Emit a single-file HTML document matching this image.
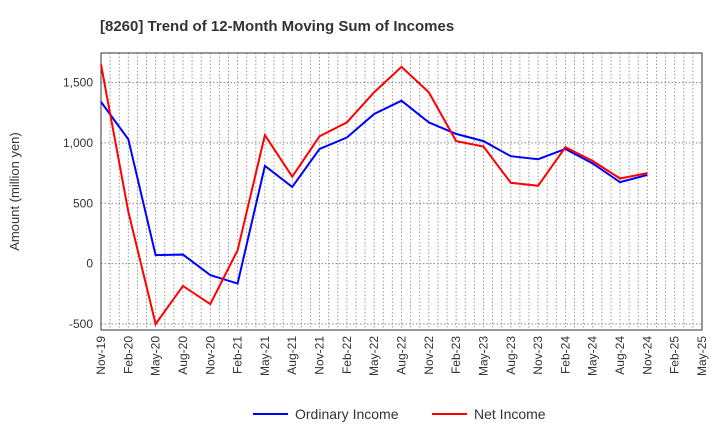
<!DOCTYPE html>
<html><head><meta charset="utf-8"><style>
body{margin:0;background:#fff;font-family:"Liberation Sans",sans-serif}
</style></head><body>
<svg id="c" width="720" height="440" xmlns="http://www.w3.org/2000/svg"></svg>
<script>
const categories=["Nov-19","Feb-20","May-20","Aug-20","Nov-20","Feb-21","May-21","Aug-21","Nov-21","Feb-22","May-22","Aug-22","Nov-22","Feb-23","May-23","Aug-23","Nov-23","Feb-24","May-24","Aug-24","Nov-24","Feb-25","May-25"];
const ordinaryIncome=[1340,1030,70,75,-95,-165,810,635,950,1045,1240,1350,1170,1075,1015,890,865,950,830,675,735];
const netIncome=[1650,430,-500,-185,-335,110,1065,720,1055,1170,1420,1630,1420,1015,970,670,645,965,850,705,750];
const yTicks=[-500,0,500,1000,1500];
const yTickLabels=["-500","0","500","1,000","1,500"];
const NS="http://www.w3.org/2000/svg";
const svg=document.getElementById('c');
const L=101,R=702,T=53,B=330,yMin=-550,yMax=1745;
const x=i=>L+(R-L)*i/(categories.length-1);
const y=v=>B-(v-yMin)/(yMax-yMin)*(B-T);
function mk(t,a){const e=document.createElementNS(NS,t);for(const k in a)e.setAttribute(k,a[k]);svg.appendChild(e);return e;}
let e=mk('text',{x:100,y:31,'font-size':15,'font-weight':'bold',fill:'#333'});e.textContent="[8260]  Trend of 12-Month Moving Sum of Incomes";


// monthly grid
for(let m=1;m<(categories.length-1)*3;m++){const gx=L+(R-L)*m/((categories.length-1)*3);
e=mk('line',{x1:gx,x2:gx,y1:T,y2:B,stroke:'#999','stroke-dasharray':'1.5,2','stroke-width':1});

}
yTicks.forEach((v,i)=>{
e=mk('line',{x1:L,x2:R,y1:y(v),y2:y(v),stroke:'#888','stroke-dasharray':'1.5,2','stroke-width':1});


e=mk('text',{x:L-8,y:y(v)+4,'text-anchor':'end','font-size':12,fill:'#333'});e.textContent=yTickLabels[i];


});
categories.forEach((c,i)=>{
e=mk('text',{transform:`translate(${x(i)+4},${B+6}) rotate(-90)`,'text-anchor':'end','font-size':12,fill:'#333'});e.textContent=c;


});
e=mk('rect',{x:L,y:T,width:R-L,height:B-T,fill:'none',stroke:'#333','stroke-width':1});


e=mk('text',{transform:`translate(19,${(T+B)/2}) rotate(-90)`,'text-anchor':'middle','font-size':13,fill:'#333'});e.textContent="Amount (million yen)";


function series(d,col,name){
e=mk('polyline',{points:d.map((v,i)=>x(i)+','+y(v)).join(' '),fill:'none',stroke:col,'stroke-width':2});

}
series(ordinaryIncome,'#0000ff','ordinary-income-line');
series(netIncome,'#ff0000','net-income-line');
[[253,'#0000ff','Ordinary Income','legend-ordinary-income'],[432,'#ff0000','Net Income','legend-net-income']].forEach(l=>{
e=mk('line',{x1:l[0],x2:l[0]+35,y1:414,y2:414,stroke:l[1],'stroke-width':2});


e=mk('text',{x:l[0]+42,y:419,'font-size':14,fill:'#333'});e.textContent=l[2];


});
</script>
</body></html>
